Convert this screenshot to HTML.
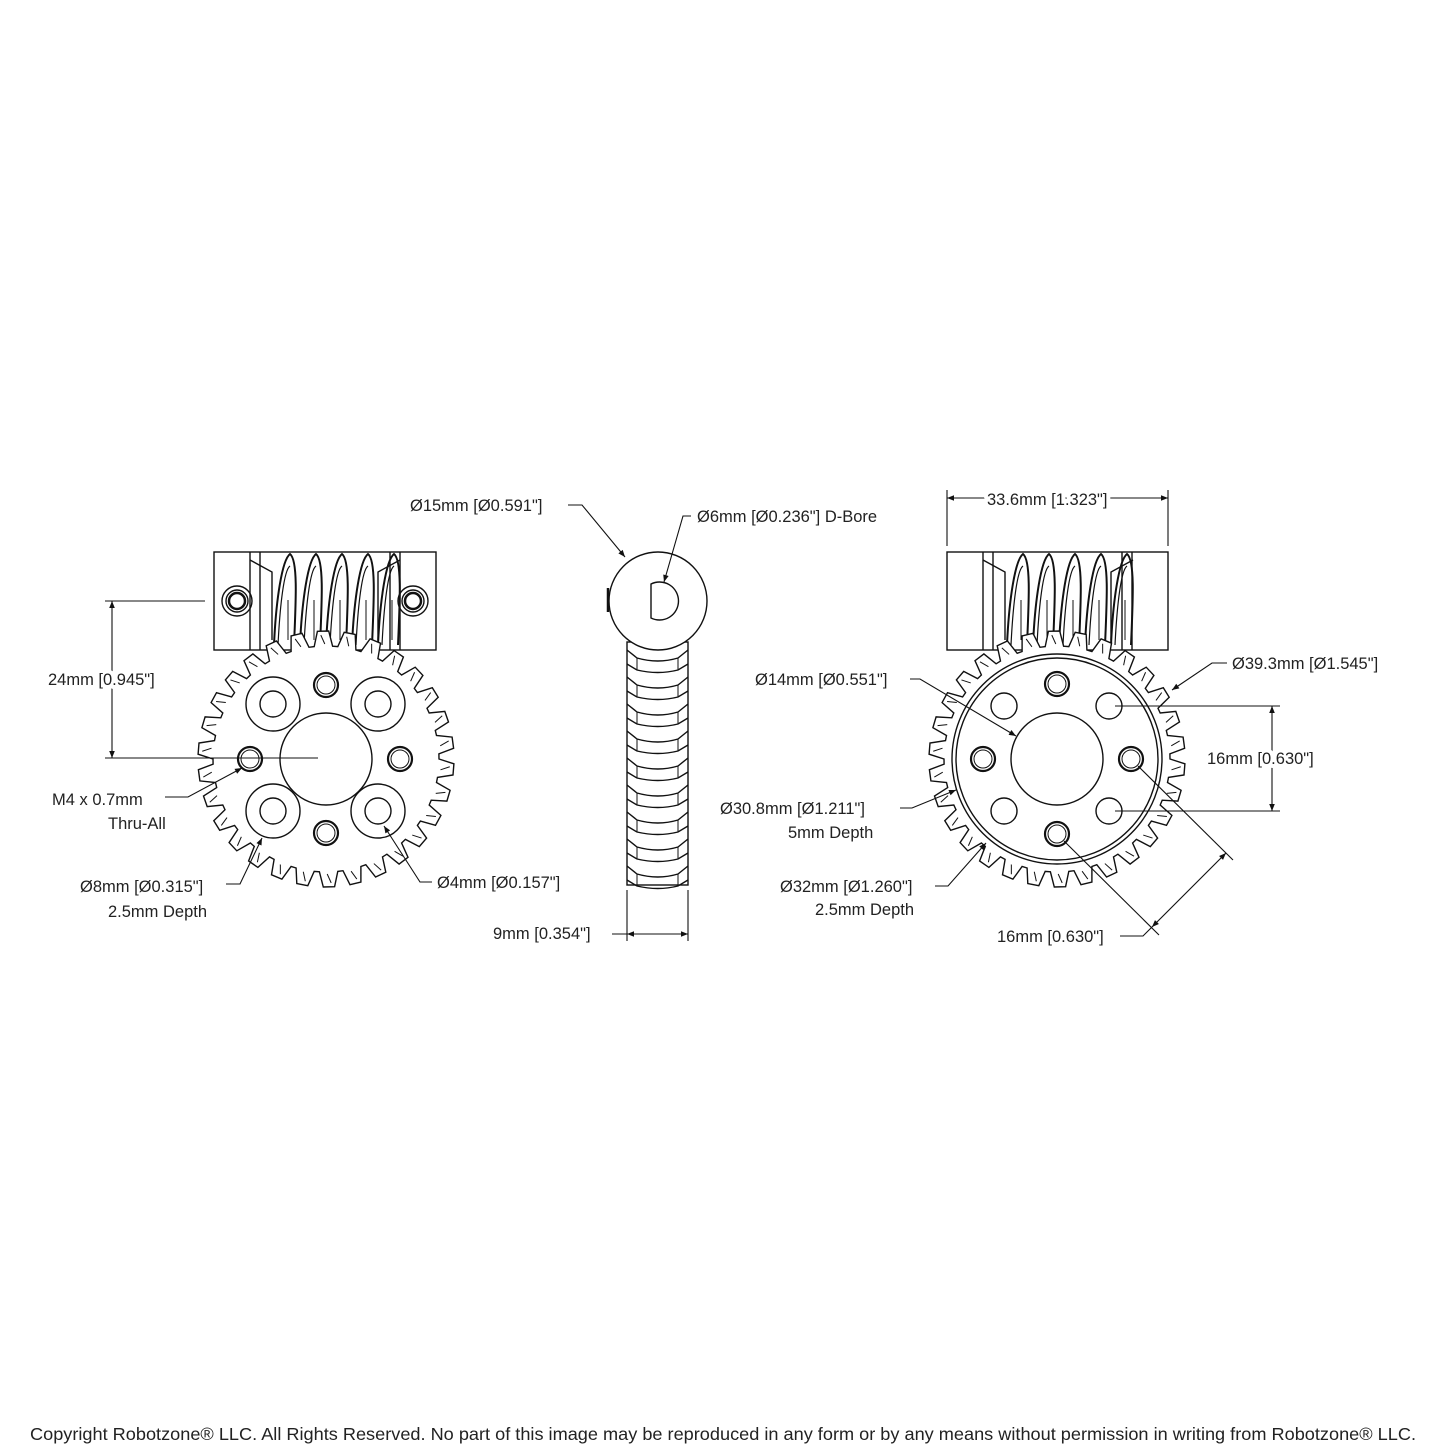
<!DOCTYPE html>
<html><head><meta charset="utf-8">
<style>
html,body{margin:0;padding:0;background:#fff;}
svg{display:block;}
text{font-family:"Liberation Sans",sans-serif;font-size:16.5px;fill:#222;}
.bg{stroke:#fff;stroke-width:8px;paint-order:stroke;stroke-linejoin:round;}
</style></head>
<body>
<svg id="s" width="1445" height="1445" viewBox="0 0 1445 1445" xmlns="http://www.w3.org/2000/svg">
<defs>
<marker id="a" viewBox="0 0 10 10" refX="10" refY="5" markerWidth="10" markerHeight="7" orient="auto-start-reverse" markerUnits="userSpaceOnUse"><path d="M0,1 L10,5 L0,9 z" fill="#111"/></marker>
</defs>
<g id="draw" fill="none" stroke="#111" stroke-width="1.4">
<!-- LEFT worm -->
<rect x="214" y="552" width="222" height="98" fill="#fff"/>
<line x1="250" y1="552" x2="250" y2="650"/><line x1="260" y1="552" x2="260" y2="650"/>
<line x1="400" y1="552" x2="400" y2="650"/><line x1="390" y1="552" x2="390" y2="650"/>
<circle cx="237" cy="601" r="15"/><circle cx="237" cy="601" r="11"/><circle cx="237" cy="601" r="8" stroke-width="2.5"/>
<circle cx="413" cy="601" r="15"/><circle cx="413" cy="601" r="11"/><circle cx="413" cy="601" r="8" stroke-width="2.5"/>
<g id="wormL"></g>
<!-- RIGHT worm -->
<rect x="947" y="552" width="221" height="98" fill="#fff"/>
<line x1="983" y1="552" x2="983" y2="650"/><line x1="993" y1="552" x2="993" y2="650"/>
<line x1="1132" y1="552" x2="1132" y2="650"/><line x1="1122" y1="552" x2="1122" y2="650"/>
<g id="wormR"></g>
<!-- gears -->
<g id="gearL"></g>
<g id="gearR"></g>
<!-- left holes -->
<circle cx="326" cy="759" r="46"/>
<circle cx="273" cy="704" r="27"/><circle cx="273" cy="704" r="13"/>
<circle cx="378" cy="704" r="27"/><circle cx="378" cy="704" r="13"/>
<circle cx="273" cy="811" r="27"/><circle cx="273" cy="811" r="13"/>
<circle cx="378" cy="811" r="27"/><circle cx="378" cy="811" r="13"/>
<g stroke-width="2.2">
<circle cx="326" cy="685" r="12"/><circle cx="326" cy="833" r="12"/>
<circle cx="250" cy="759" r="12"/><circle cx="400" cy="759" r="12"/></g>
<g stroke-width="1"><circle cx="326" cy="685" r="9"/><circle cx="326" cy="833" r="9"/>
<circle cx="250" cy="759" r="9"/><circle cx="400" cy="759" r="9"/></g>
<!-- right holes -->
<circle cx="1057" cy="759" r="105"/><circle cx="1057" cy="759" r="101"/>
<circle cx="1057" cy="759" r="46"/>
<circle cx="1004" cy="706" r="13"/><circle cx="1109" cy="706" r="13"/>
<circle cx="1004" cy="811" r="13"/><circle cx="1109" cy="811" r="13"/>
<g stroke-width="2.2">
<circle cx="1057" cy="684" r="12"/><circle cx="1057" cy="834" r="12"/>
<circle cx="983" cy="759" r="12"/><circle cx="1131" cy="759" r="12"/></g>
<g stroke-width="1"><circle cx="1057" cy="684" r="9"/><circle cx="1057" cy="834" r="9"/>
<circle cx="983" cy="759" r="9"/><circle cx="1131" cy="759" r="9"/></g>
<!-- middle -->
<rect x="627" y="642" width="61" height="243" fill="#fff"/>
<g id="side"></g>
<circle cx="658" cy="601" r="49" fill="#fff"/>
<path d="M651,584 A19,19 0 1 1 651,618 Z" />
<line x1="608" y1="588" x2="608" y2="612" stroke-width="2.5"/>
<!-- dimensions -->
<g stroke-width="1.1">
<line x1="105" y1="601" x2="205" y2="601"/><line x1="105" y1="758" x2="318" y2="758"/>
<line x1="112" y1="601" x2="112" y2="758" marker-start="url(#a)" marker-end="url(#a)"/>
<polyline points="165,797 188,797 242,768" marker-end="url(#a)"/>
<polyline points="226,884 240,884 262,838" marker-end="url(#a)"/>
<polyline points="432,882 420,882 384,826" marker-end="url(#a)"/>
<polyline points="568,505 582,505 625,557" marker-end="url(#a)"/>
<polyline points="691,516 683,516 664,582" marker-end="url(#a)"/>
<line x1="627" y1="890" x2="627" y2="941"/><line x1="688" y1="890" x2="688" y2="941"/>
<line x1="612" y1="934" x2="688" y2="934" marker-end="url(#a)"/>
<line x1="627" y1="934" x2="688" y2="934" marker-start="url(#a)"/>
<line x1="947" y1="490" x2="947" y2="546"/><line x1="1168" y1="490" x2="1168" y2="546"/>
<line x1="947" y1="498" x2="1168" y2="498" marker-start="url(#a)" marker-end="url(#a)"/>
<polyline points="1227,663 1212,663 1172,690" marker-end="url(#a)"/>
<line x1="1115" y1="706" x2="1280" y2="706"/><line x1="1115" y1="811" x2="1280" y2="811"/>
<line x1="1272" y1="706" x2="1272" y2="811" marker-start="url(#a)" marker-end="url(#a)"/>
<polyline points="910,679 920,679 1016,736" marker-end="url(#a)"/>
<polyline points="900,808 912,808 956,790" marker-end="url(#a)"/>
<polyline points="935,886 948,886 986,843" marker-end="url(#a)"/>
<line x1="1138" y1="766" x2="1233" y2="860"/><line x1="1064" y1="841" x2="1159" y2="935"/>
<line x1="1226" y1="853" x2="1152" y2="927" marker-start="url(#a)" marker-end="url(#a)"/>
<polyline points="1120,936 1143,936 1152,927"/>
</g>
</g>
<g>
<text class="bg" x="48" y="685">24mm [0.945"]</text>
<text x="52" y="805">M4 x 0.7mm</text>
<text x="108" y="829">Thru-All</text>
<text x="80" y="892">Ø8mm [Ø0.315"]</text>
<text x="108" y="917">2.5mm Depth</text>
<text x="437" y="888">Ø4mm [Ø0.157"]</text>
<text x="410" y="511">Ø15mm [Ø0.591"]</text>
<text x="697" y="522">Ø6mm [Ø0.236"] D-Bore</text>
<text x="493" y="939">9mm [0.354"]</text>
<text class="bg" x="987" y="505">33.6mm [1.323"]</text>
<text x="1232" y="669">Ø39.3mm [Ø1.545"]</text>
<text class="bg" x="1207" y="764">16mm [0.630"]</text>
<text x="755" y="685">Ø14mm [Ø0.551"]</text>
<text x="720" y="814">Ø30.8mm [Ø1.211"]</text>
<text x="788" y="838">5mm Depth</text>
<text x="780" y="892">Ø32mm [Ø1.260"]</text>
<text x="815" y="915">2.5mm Depth</text>
<text x="997" y="942">16mm [0.630"]</text>
<text x="30" y="1440" style="font-size:17.5px" textLength="1386" lengthAdjust="spacingAndGlyphs">Copyright Robotzone® LLC.  All Rights Reserved. No part of this image may be reproduced in any form or by any means without permission in writing from Robotzone® LLC.</text>
</g>
</svg>
<script>
var NS="http://www.w3.org/2000/svg";
function el(p,t,a){var e=document.createElementNS(NS,t);for(var k in a)e.setAttribute(k,a[k]);p.appendChild(e);return e;}
function gear(id,cx,cy){
 var g=document.getElementById(id);var N=30,rr=113,rt=128,d="";
 for(var i=0;i<N;i++){
  var a0=(i/N)*2*Math.PI, w=2*Math.PI/N;
  var pts=[[rr,a0],[rt,a0+w*0.18],[rt,a0+w*0.6],[rr,a0+w*0.78],[rr,a0+w]];
  pts.forEach(function(p,j){var x=cx+p[0]*Math.cos(p[1]),y=cy+p[0]*Math.sin(p[1]);d+=(i==0&&j==0?"M":"L")+x.toFixed(1)+","+y.toFixed(1);});
  var x1=cx+(rt-4)*Math.cos(a0+w*0.3),y1=cy+(rt-4)*Math.sin(a0+w*0.3),x2=cx+(rr+2)*Math.cos(a0+w*0.45),y2=cy+(rr+2)*Math.sin(a0+w*0.45);
  el(g,"line",{x1:x1,y1:y1,x2:x2,y2:y2,"stroke-width":1});
 }
 var p=el(g,"path",{d:d+"Z",fill:"#fff"});
 g.insertBefore(p,g.firstChild);
}
gear("gearL",326,759);gear("gearR",1057,759);
function worm(id,x0){
 var g=document.getElementById(id);
 el(g,"path",{d:"M"+(x0+36)+",560 L"+(x0+58)+",572 L"+(x0+58)+",640 M"+(x0+186)+",560 L"+(x0+164)+",572 L"+(x0+164)+",640",fill:"none"});
 for(var i=0;i<5;i++){
  var x=x0+60+i*26;
  el(g,"path",{d:"M"+x+",645 C"+(x+2)+",600 "+(x+8)+",560 "+(x+16)+",554 C"+(x+24)+",560 "+(x+22)+",600 "+(x+20)+",645",fill:"none","stroke-width":2});
  el(g,"path",{d:"M"+(x+4)+",645 C"+(x+6)+",605 "+(x+10)+",570 "+(x+16)+",566",fill:"none","stroke-width":1.2});
  el(g,"line",{x1:x+14,y1:600,x2:x+14,y2:640,"stroke-width":1});
 }
}
worm("wormL",214);worm("wormR",947);
var s=document.getElementById("side");
for(var y=650;y<885;y+=27){
 el(s,"path",{d:"M627,"+y+" L637,"+(y+8)+" Q658,"+(y+14)+" 678,"+(y+8)+" L688,"+y,fill:"none"});
 el(s,"path",{d:"M627,"+(y+14)+" L637,"+(y+20)+" Q658,"+(y+25)+" 678,"+(y+20)+" L688,"+(y+14),fill:"none"});
 el(s,"line",{x1:637,y1:y+8,x2:637,y2:y+20,"stroke-width":1});
 el(s,"line",{x1:678,y1:y+8,x2:678,y2:y+20,"stroke-width":1});
}
</script>
</body></html>
